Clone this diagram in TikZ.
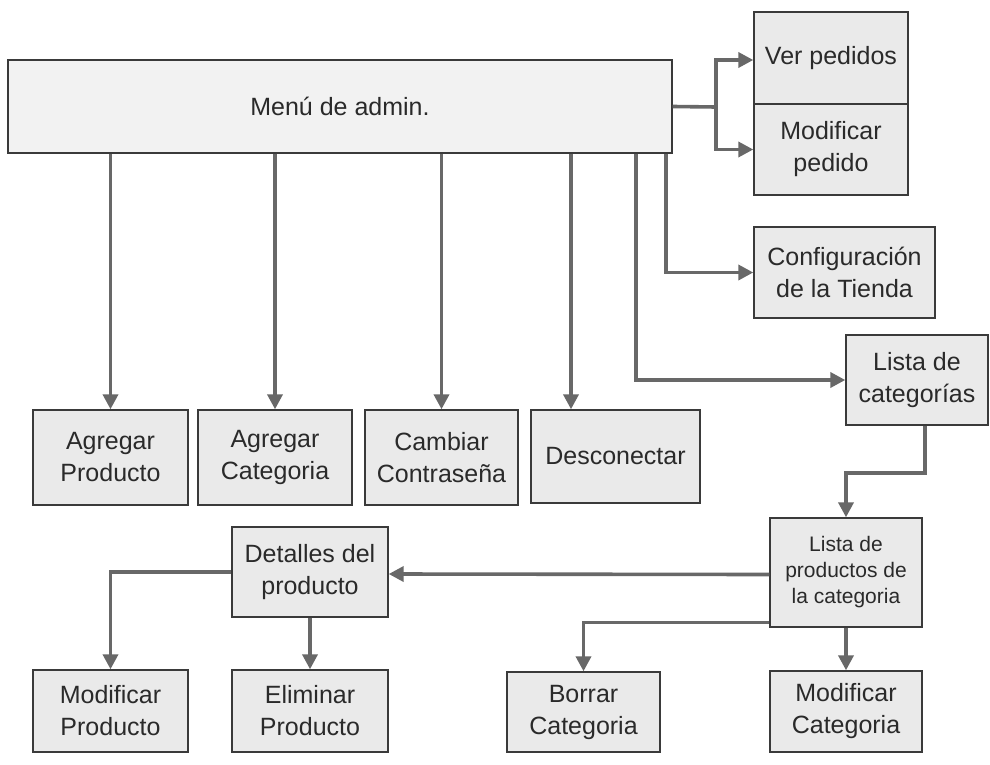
\documentclass[tikz,border=0pt]{standalone}
\usepackage{fontspec}
\setmainfont{Liberation Sans}
\usetikzlibrary{arrows.meta}
\definecolor{boxfill}{HTML}{EAEAEA}
\definecolor{boxline}{HTML}{3A3A3A}
\definecolor{linkgray}{HTML}{686868}
\definecolor{txt}{HTML}{2A2A2A}
\begin{document}
\begin{tikzpicture}[x=1pt,y=-1pt,
  box/.style={draw=boxline,line width=1.4pt,fill=boxfill,text=txt,align=center,
    inner sep=2pt,font=\fontsize{25}{32}\selectfont},
  smallbox/.style={box,font=\fontsize{21}{26}\selectfont},
  link/.style={draw=linkgray,line width=3.6pt},
  arr/.style={link,-{Triangle[length=15pt,width=15pt]}}]
\useasboundingbox (0,0) rectangle (990,765);
\fill[white] (0,0) rectangle (990,765);

% main menu
\node[box,fill=boxfill!60,minimum width=664pt,minimum height=93pt] (menu) at (340,106.5) {Menú de admin.};

% order boxes on the right
\node[box,minimum width=154pt,minimum height=92pt] (ver) at (831,58) {Ver pedidos};
\node[box,minimum width=154pt,minimum height=91pt] (modp) at (831,149.5) {Modificar\\pedido};
\node[box,minimum width=181pt,minimum height=91pt] (conf) at (844.5,272.5) {Configuración\\de la Tienda};
\node[box,minimum width=142pt,minimum height=90pt] (lcat) at (917,380) {Lista de\\categorías};

% first row under the menu
\node[box,minimum width=155pt,minimum height=95pt] (ap) at (110.5,457.5) {Agregar\\Producto};
\node[box,minimum width=154pt,minimum height=95pt] (ac) at (275,457.5) {Agregar\\Categoria};
\node[box,minimum width=153pt,minimum height=95pt] (cc) at (441.5,457.5) {Cambiar\\Contraseña};
\node[box,minimum width=169pt,minimum height=93pt] (des) at (615.5,456.5) {Desconectar};

% product and category handling
\node[box,minimum width=156pt,minimum height=90pt] (det) at (310,572) {Detalles del\\producto};
\node[smallbox,minimum width=152pt,minimum height=109pt] (lprod) at (846,572.5) {Lista de\\productos de\\la categoria};
\node[box,minimum width=155pt,minimum height=82pt] (mprod) at (110.5,711) {Modificar\\Producto};
\node[box,minimum width=156pt,minimum height=82pt] (eprod) at (310,711) {Eliminar\\Producto};
\node[box,minimum width=153pt,minimum height=80pt] (bcat) at (583.5,712) {Borrar\\Categoria};
\node[box,minimum width=152pt,minimum height=81pt] (mcat) at (846,711.5) {Modificar\\Categoria};

% connectors from the menu
\coordinate (split) at (716,107);
\draw[link] (menu.east) -- (split);
\draw[arr] (split) |- ([yshift=-2pt]ver.west);
\draw[arr] (split) |- (modp.west);
\draw[arr] ([xshift=-7pt]menu.south east) |- (conf.west);
\draw[arr] ([xshift=-37pt]menu.south east) |- (lcat.west);
\draw[arr] (menu.south -| ap.north) -- (ap.north);
\draw[arr] (menu.south -| ac.north) -- (ac.north);
\draw[arr] (menu.south -| cc.north) -- (cc.north);
\draw[arr] (menu.south -| 571,0) -- (des.north -| 571,0);

% category and product flow
\draw[arr] ([xshift=8pt]lcat.south) -- ++(0,47) -| (lprod.north);
\draw[arr] ([yshift=-2pt]lprod.west) -- ([yshift=-2pt]det.east);
\draw[arr] ([yshift=-50pt]lprod.west) -| (bcat.north);
\draw[arr] (lprod.south) -- (mcat.north);
\draw[arr] (det.west) -| (mprod.north);
\draw[arr] (det.south) -- (eprod.north);
\end{tikzpicture}
\end{document}
